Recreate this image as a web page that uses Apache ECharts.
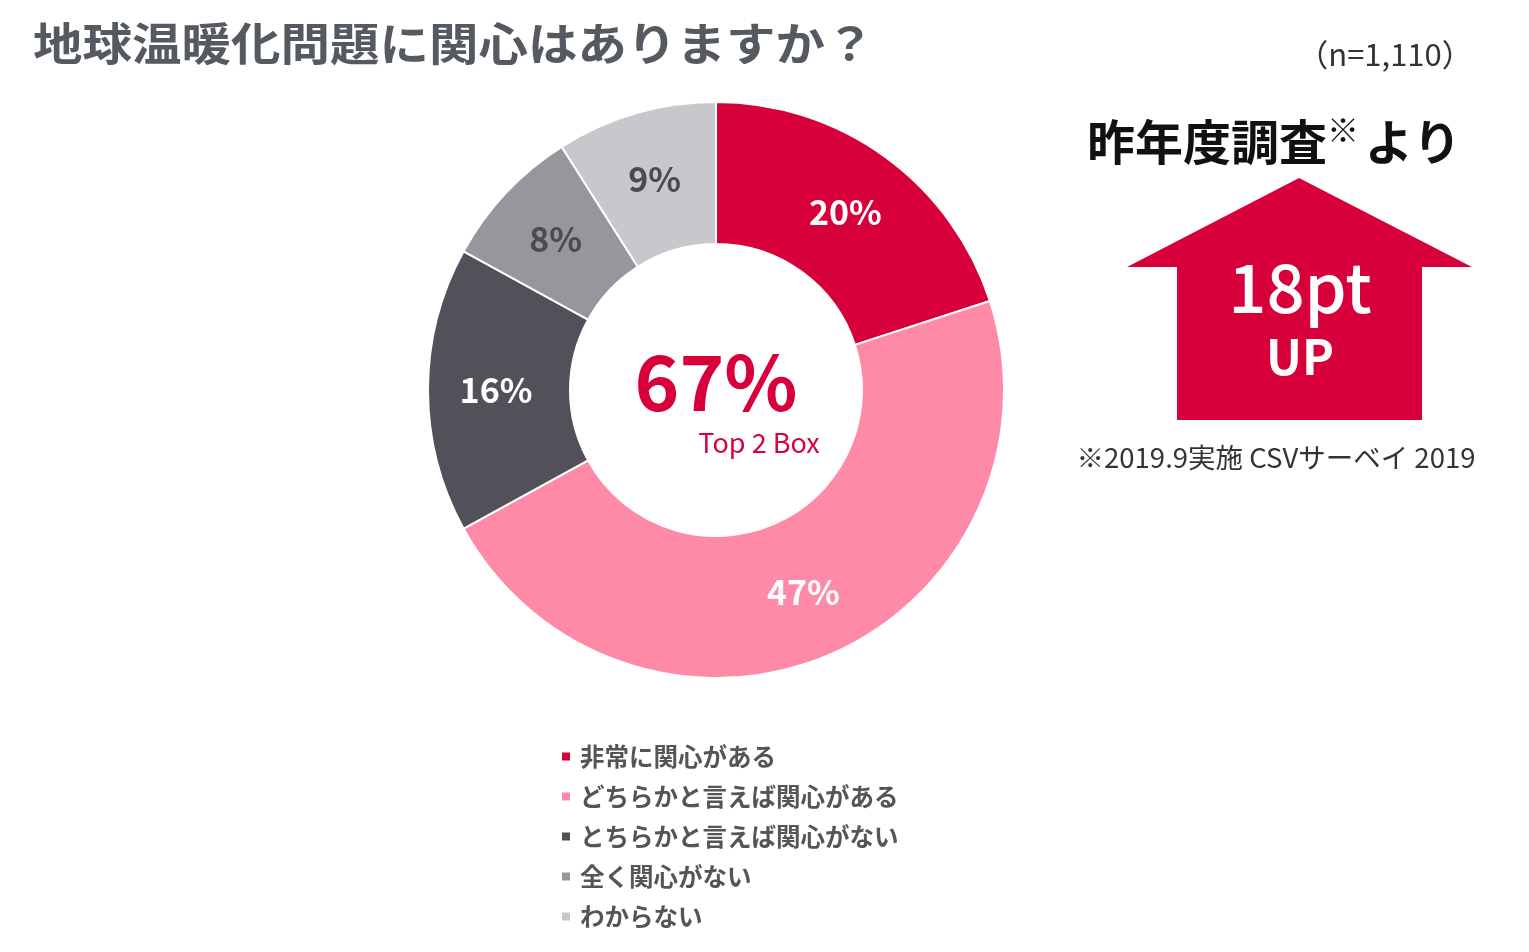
<!DOCTYPE html>
<html>
<head>
  <meta charset="utf-8">
  <title>地球温暖化問題に関心はありますか？</title>
  <style>
    html, body { margin: 0; padding: 0; background: #fff; }
    #main { width: 1529px; height: 952px; }
  </style>
</head>
<body>
  <div id="main"></div>
</body>
<script src="https://cdn.jsdelivr.net/npm/echarts@6/dist/echarts.min.js"></script>
<script>
let myChart = echarts.init(document.querySelector('#main'))

// 回答データ
let categories = ['非常に関心がある', 'どちらかと言えば関心がある', 'とちらかと言えば関心がない', '全く関心がない', 'わからない']
let values = [20, 47, 16, 8, 9]
let colors = ['#d7003a', '#ff8aa8', '#52515a', '#97969c', '#c8c7cc']
let labelColors = ['#fff', '#fff', '#fff', '#4a4a50', '#4a4a50']

let top2 = '67%'
let upText = '18pt'
const FONT = '"Noto Sans CJK JP", "Noto Sans", sans-serif'
const RED = '#d7003a'

let data = categories.map((name, i) => ({
    name: name,
    value: values[i],
    itemStyle: { color: colors[i] },
    label: { color: labelColors[i] }
}))

let option = {
    animation: false,
    textStyle: { fontFamily: FONT },
    legend: {
        orient: 'vertical',
        left: 555,
        top: 739,
        icon: 'rect',
        itemWidth: 10,
        itemHeight: 10,
        itemGap: 15,
        textStyle: { fontSize: 24.5, fontWeight: 'bold', color: '#555', lineHeight: 25, fontFamily: FONT, padding: [0, 0, 0, 4] },
        data: categories
    },
    series: [
        {
            type: 'pie',
            center: [716, 390],
            radius: [146, 288],
            startAngle: 90,
            clockwise: true,
            avoidLabelOverlap: false,
            itemStyle: { borderColor: '#fff', borderWidth: 2 },
            label: {
                show: true,
                position: 'inside',
                formatter: '{c}%',
                fontSize: 34,
                fontWeight: 'bold',
                fontFamily: FONT
            },
            labelLine: { show: false },
            emphasis: { disabled: true },
            data: data
        }
    ],
    graphic: [
        // タイトル（横長）
        {
            type: 'text', x: 33, y: 44, scaleX: 1.1,
            style: { text: '地球温暖化問題に関心はありますか？', fill: '#555a60', font: 'bold 45px ' + FONT, textAlign: 'left', textVerticalAlign: 'middle' }
        },
        // 中央 Top 2 Box
        {
            type: 'text', x: 716, y: 382,
            style: { text: top2, fill: RED, font: 'bold 76px ' + FONT, textAlign: 'center', textVerticalAlign: 'middle' }
        },
        {
            type: 'text', x: 759, y: 443,
            style: { text: 'Top 2 Box', fill: RED, font: '27px ' + FONT, textAlign: 'center', textVerticalAlign: 'middle' }
        },
        // 右上
        {
            type: 'text', x: 1385, y: 54,
            style: { text: '（n=1,110）', fill: '#333', font: '31px ' + FONT, textAlign: 'center', textVerticalAlign: 'middle' }
        },
        {
            type: 'text', x: 1087, y: 140,
            style: {
                text: '{a|昨年度調査}{s|※}{a|より}',
                textVerticalAlign: 'middle',
                rich: {
                    a: { font: 'bold 48px ' + FONT, fill: '#111', verticalAlign: 'bottom' },
                    s: { font: 'bold 32px ' + FONT, fill: '#111', verticalAlign: 'top', padding: [0, 6, 20, 0] }
                }
            }
        },
        // 矢印
        {
            type: 'polygon',
            shape: { points: [[1299, 178], [1472, 267], [1422, 267], [1422, 420], [1177, 420], [1177, 267], [1127, 267]] },
            style: { fill: RED }
        },
        {
            type: 'text', x: 1300, y: 288,
            style: { text: upText, fill: '#fff', font: '500 67px ' + FONT, textAlign: 'center', textVerticalAlign: 'middle' }
        },
        {
            type: 'text', x: 1300, y: 357,
            style: { text: 'UP', fill: '#fff', font: 'bold 48px ' + FONT, textAlign: 'center', textVerticalAlign: 'middle' }
        },
        {
            type: 'text', x: 1276, y: 458,
            style: { text: '※2019.9実施 CSVサーベイ 2019', fill: '#333', font: '27.5px ' + FONT, textAlign: 'center', textVerticalAlign: 'middle' }
        }
    ]
};
myChart.setOption(option);
</script>
</html>
